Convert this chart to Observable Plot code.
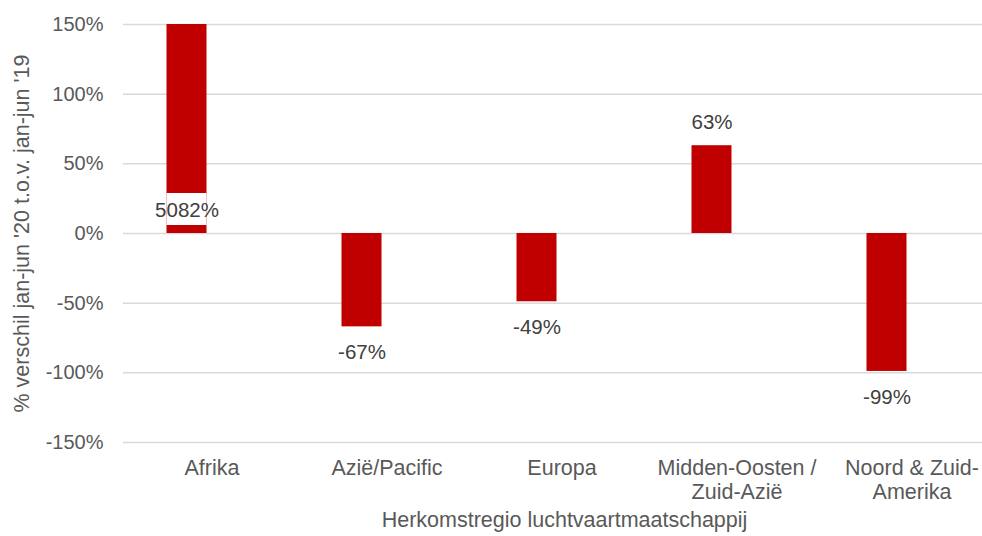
<!DOCTYPE html>
<html>
<head>
<meta charset="utf-8">
<script src="https://cdn.jsdelivr.net/npm/d3@7"></script>
<script src="https://cdn.jsdelivr.net/npm/@observablehq/plot@0.6"></script>
<style>
  html, body { margin: 0; padding: 0; background: #fff; }
  #chart svg { display: block; }
</style>
</head>
<body>
<div id="chart"></div>
<script>
const categories = ["Afrika", "Azië/Pacific", "Europa", "Midden-Oosten / Zuid-Azië", "Noord & Zuid-Amerika"];
const tickLabels = ["Afrika", "Azië/Pacific", "Europa", "Midden-Oosten /\nZuid-Azië", "Noord & Zuid-\nAmerika"];
const values = [50.82, -0.67, -0.49, 0.63, -0.99];
const labels = ["5082%", "-67%", "-49%", "63%", "-99%"];
const yTicks = [-1.5, -1, -0.5, 0, 0.5, 1, 1.5];
const yLabel = "% verschil jan-jun '20 t.o.v. jan-jun '19";
const xLabel = "Herkomstregio luchtvaartmaatschappij";

const yMax = 1.5;
const data = categories.map((c, i) => ({cat: c, value: values[i], label: labels[i], tick: tickLabels[i]}));
const pos = data.filter(d => d.value >= 0);
const neg = data.filter(d => d.value < 0);
const clipped = data.filter(d => d.value > yMax);

const font = "'Liberation Sans', Arial, sans-serif";

const chart = Plot.plot({
  width: 982,
  height: 536,
  marginLeft: 123,
  marginRight: 0,
  marginTop: 24,
  marginBottom: 94,
  style: {fontFamily: font, fontSize: "20px", color: "#595959", background: "#fff"},
  x: {domain: categories, range: [123.5, 998.5], padding: 0, axis: null},
  y: {domain: [-1.5, 1.5], clamp: true},
  marks: [
    Plot.ruleY(yTicks, {stroke: "#d9d9d9", strokeWidth: 1.5}),
    Plot.axisY({ticks: yTicks, tickSize: 0, tickPadding: 20, tickFormat: d => Math.round(d * 100) + "%", label: null, fill: "#595959", fontSize: 20}),
    Plot.barY(data, {x: "cat", y: "value", fill: "#c00000", insetLeft: 42.5, insetRight: 92.5}),
    // white label background where the clipped bar carries its label inside the base
    Plot.rect(clipped, {x: "cat", y1: 0, y2: 0, fill: "white", insetLeft: 42.5, insetRight: 92.5, insetTop: -40, insetBottom: 8}),
    Plot.text(pos, {x: "cat", y: d => d.value > yMax ? 0 : d.value, text: "label", dx: -25, dy: -23, fill: "#404040", fontSize: 20.5}),
    Plot.text(neg, {x: "cat", y: "value", text: "label", dx: -25, dy: 26, fill: "#404040", fontSize: 20.5}),
    Plot.text(data, {x: "cat", text: "tick", frameAnchor: "bottom", lineAnchor: "top", lineHeight: 1.116, dy: 15.5, fill: "#595959", fontSize: 21.5}),
    Plot.text([yLabel], {frameAnchor: "left", textAnchor: "middle", rotate: -90, dx: -101, fill: "#595959", fontSize: 21.5}),
    Plot.text([xLabel], {frameAnchor: "bottom", dx: 11.5, dy: 84, fill: "#595959", fontSize: 21.5})
  ]
});
document.getElementById("chart").appendChild(chart);
</script>
</body>
</html>
